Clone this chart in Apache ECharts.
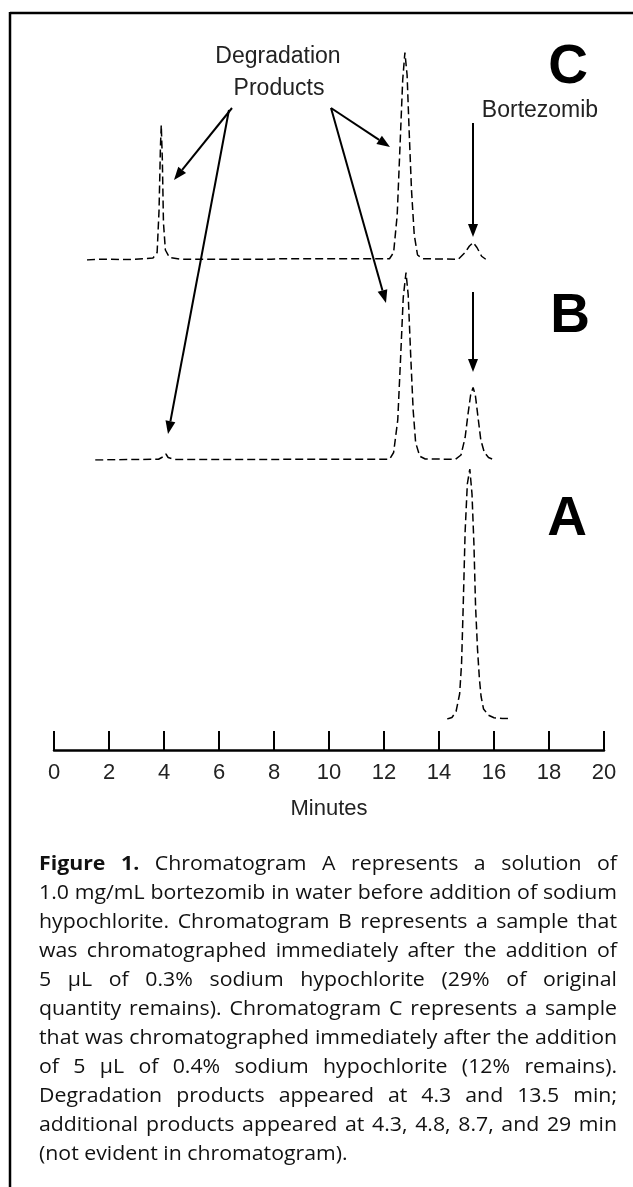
<!DOCTYPE html>
<html>
<head>
<meta charset="utf-8">
<script src="https://cdn.jsdelivr.net/npm/echarts@6/dist/echarts.min.js"></script>
<style>
  html, body { margin:0; padding:0; background:#fff; }
  #wrap { position:relative; width:633px; height:1187px; overflow:hidden; }
  #chart { position:absolute; left:0; top:0; width:633px; height:1187px; }
  #caption { position:absolute; left:39px; top:848px; width:578px; font-family:"Open Sans","Noto Sans",sans-serif; font-size:19.5px; line-height:29px; color:#111; transform-origin:left top; }
  #caption div { white-space:nowrap; text-align:justify; text-align-last:justify; }
  #caption div.last { text-align-last:left; }
  #caption span { display:inline-block; }
</style>
</head>
<body>
<div id="wrap">
  <div id="chart"></div>
  <div id="caption"></div>
</div>
<script>
// ---- data (minutes, relative response % of chromatogram A peak) ----
const tickLabels = ['0','2','4','6','8','10','12','14','16','18','20'];
const traceNames = ['C', 'B', 'A'];

const timeC = [1.2, 1.6, 2.8, 3.3, 3.6, 3.75, 3.82, 3.87, 3.9, 3.94, 3.98, 4.05, 4.2, 4.6, 7.9, 8.2, 12.2, 12.35, 12.48, 12.58, 12.68, 12.76, 12.84, 12.92, 13.0, 13.1, 13.22, 13.4, 14.7, 14.95, 15.1, 15.24, 15.38, 15.55, 15.7];
const respC = [0, 0.3, 0.2, 0.5, 0.8, 3, 20, 45, 54, 40, 15, 4, 1, 0.3, 0.3, 0.5, 0.5, 3, 18, 45, 72, 83, 74, 50, 28, 10, 2, 0.5, 0.3, 3, 5.5, 7, 5, 1.5, 0.3];

const timeB = [1.5, 3.8, 4.0, 4.07, 4.15, 4.4, 12.2, 12.35, 12.5, 12.6, 12.7, 12.8, 12.88, 12.97, 13.06, 13.15, 13.3, 13.5, 14.6, 14.8, 14.95, 15.05, 15.15, 15.24, 15.32, 15.42, 15.52, 15.65, 15.8, 15.96];
const respB = [0, 0.3, 1.5, 2.4, 1, 0.2, 0.3, 3, 16, 40, 65, 75, 66, 42, 20, 7, 1.5, 0.4, 0.3, 2, 9, 18, 26, 29, 26, 17, 8, 3, 1, 0.3];

const timeA = [14.3, 14.47, 14.62, 14.75, 14.82, 14.88, 14.95, 15.03, 15.12, 15.2, 15.27, 15.33, 15.4, 15.47, 15.53, 15.62, 15.8, 16.0, 16.3, 16.65];
const respA = [0, 0.6, 3, 10, 22, 45, 75, 94, 100, 90, 70, 45, 28, 16, 9, 4, 1.5, 0.5, 0.2, 0.2];

const captionLines = [
  '<b>Figure 1.</b> Chromatogram A represents a solution of',
  '1.0 mg/mL bortezomib in water before addition of sodium',
  'hypochlorite. Chromatogram B represents a sample that',
  'was chromatographed immediately after the addition of',
  '5 µL of 0.3% sodium hypochlorite (29% of original',
  'quantity remains). Chromatogram C represents a sample',
  'that was chromatographed immediately after the addition',
  'of 5 µL of 0.4% sodium hypochlorite (12% remains).',
  'Degradation products appeared at 4.3 and 13.5 min;',
  'additional products appeared at 4.3, 4.8, 8.7, and 29 min',
  '(not evident in chromatogram).'
];

// ---- caption (each line justified; whole block scaled horizontally to fit 578px) ----
const cap = document.getElementById('caption');
const TARGET_W = 578;
let maxW = 0;
const probes = captionLines.map(l => {
  const s = document.createElement('span');
  s.innerHTML = l;
  s.style.whiteSpace = 'nowrap';
  cap.appendChild(s);
  return s;
});
probes.forEach(s => { maxW = Math.max(maxW, s.getBoundingClientRect().width); });
probes.forEach(s => s.remove());
const sx = Math.min(1.25, TARGET_W / (maxW + 2));
cap.style.width = (TARGET_W / sx) + 'px';
cap.style.transform = 'scaleX(' + sx + ')';
captionLines.forEach((l, i) => {
  const d = document.createElement('div');
  d.innerHTML = l;
  if (i === captionLines.length - 1) d.className = 'last';
  cap.appendChild(d);
});

// ---- chart ----
const FONT = '"Liberation Sans", Arial, sans-serif';
const pairs = (t, v) => t.map((x, i) => [x, v[i]]);

function arrow(x1, y1, x2, y2) {
  const dx = x2 - x1, dy = y2 - y1, L = Math.hypot(dx, dy);
  const ux = dx / L, uy = dy / L, hl = 13, hw = 5;
  const bx = x2 - ux * hl, by = y2 - uy * hl;
  return [
    { type: 'line', shape: { x1, y1, x2: bx, y2: by }, style: { stroke: '#000', lineWidth: 2 } },
    { type: 'polygon', shape: { points: [[x2, y2], [bx - uy * hw, by + ux * hw], [bx + uy * hw, by - ux * hw]] }, style: { fill: '#000' } }
  ];
}

const txt = (x, y, s, size, bold) => ({
  type: 'text', x, y,
  style: { text: s, font: (bold ? 'bold ' : '') + size + 'px ' + FONT, fill: bold ? '#000' : '#222', align: 'center', verticalAlign: 'middle' }
});

const graphics = [
  { type: 'line', shape: { x1: 10, y1: 13, x2: 640, y2: 13 }, style: { stroke: '#000', lineWidth: 2.5 } },
  { type: 'line', shape: { x1: 10, y1: 12, x2: 10, y2: 1190 }, style: { stroke: '#000', lineWidth: 2.5 } },
  txt(278, 57, 'Degradation', 23),
  txt(279, 89, 'Products', 23),
  txt(540, 111, 'Bortezomib', 23),
  txt(568, 68, traceNames[0], 55, true),
  txt(570, 317, traceNames[1], 55, true),
  txt(567, 520, traceNames[2], 55, true),
  ...arrow(232, 108, 174, 180),
  ...arrow(229, 110, 168, 434),
  ...arrow(331, 108, 390, 147),
  ...arrow(331, 108, 386, 303),
  ...arrow(473, 123, 473, 237),
  ...arrow(473, 292, 473, 372)
];

const gridTops = [10, 210, 469];
const chart = echarts.init(document.getElementById('chart'));
const lineStyle = { color: '#000', width: 1.5, type: [8, 4] };

chart.setOption({
  animation: false,
  grid: gridTops.map(t => ({ left: 54, right: 29, top: t, height: 250 })),
  xAxis: [0, 1, 2].map(i => ({
    type: 'value', gridIndex: i, min: 0, max: 20, interval: 2,
    show: i === 2,
    offset: 31,
    axisLine: { show: true, onZero: false, lineStyle: { color: '#000', width: 2.5 } },
    axisTick: { show: true, inside: true, length: 19, lineStyle: { color: '#000', width: 2 } },
    axisLabel: { fontSize: 22, margin: 12, color: '#222', fontFamily: FONT, formatter: (v) => tickLabels[Math.round(v / 2)] },
    splitLine: { show: false },
    name: 'Minutes', nameLocation: 'middle', nameGap: 48,
    nameTextStyle: { fontSize: 22, color: '#222', fontFamily: FONT }
  })),
  yAxis: [0, 1, 2].map(i => ({ type: 'value', gridIndex: i, min: 0, max: 100, show: false })),
  series: [
    { type: 'line', xAxisIndex: 0, yAxisIndex: 0, data: pairs(timeC, respC), showSymbol: false, lineStyle },
    { type: 'line', xAxisIndex: 1, yAxisIndex: 1, data: pairs(timeB, respB), showSymbol: false, lineStyle },
    { type: 'line', xAxisIndex: 2, yAxisIndex: 2, data: pairs(timeA, respA), showSymbol: false, lineStyle }
  ],
  graphic: graphics
});
</script>
</body>
</html>
